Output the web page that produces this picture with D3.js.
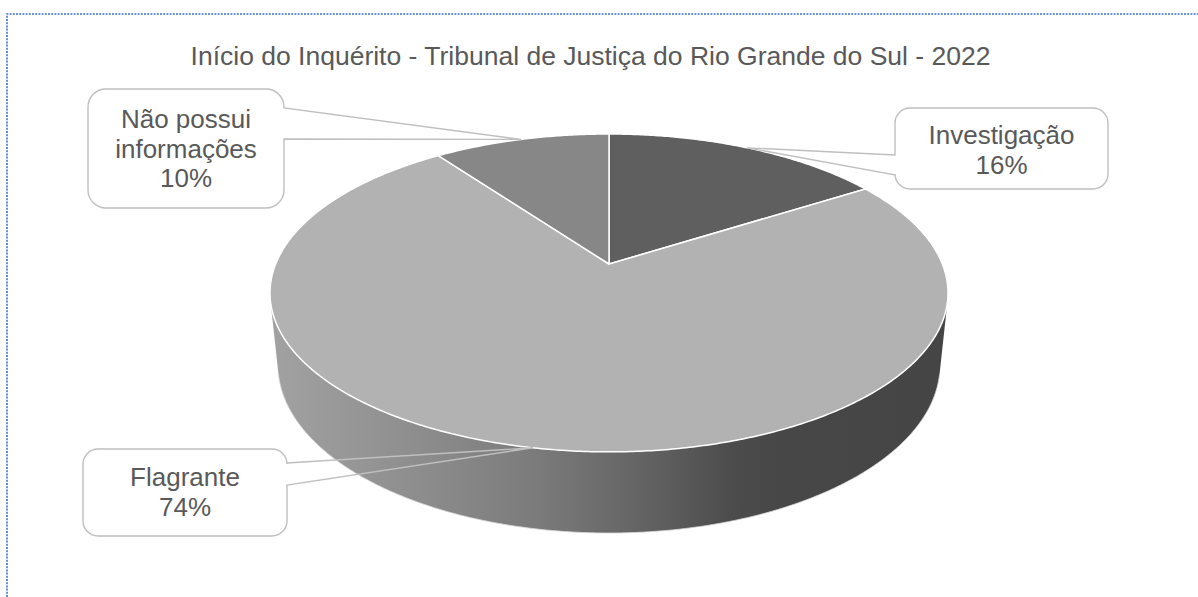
<!DOCTYPE html>
<html><head><meta charset="utf-8">
<script src="https://cdn.jsdelivr.net/npm/d3@7"></script>
<style>body{margin:0;background:#fff} svg{display:block}</style>
</head><body>
<svg id="c" width="1198" height="597"></svg>
<script>
const title = "Início do Inquérito - Tribunal de Justiça do Rio Grande do Sul - 2022";
const categories = ["Investigação", "Flagrante", "Não possui informações"];
const values = [16, 74, 10];
const labelLines = [["Investigação"], ["Flagrante"], ["Não possui", "informações"]];
const colors = ["#5f5f5f", "#b2b2b2", "#878787"];

const W = 1198, H = 597;
const svg = d3.select("#c");
const FONT = "'Liberation Sans', Arial, sans-serif";
const TXT = "#595959";

// chart frame (dotted selection border)
svg.append("path").attr("d", `M7,${H} V14 H${W}`)
  .attr("fill", "none").attr("stroke", "#4472c4").attr("stroke-width", 1.6)
  .attr("stroke-dasharray", "2,1.2");

// title
svg.append("text").attr("x", 590.5).attr("y", 65).attr("text-anchor", "middle")
  .attr("font-family", FONT).attr("font-size", 26.5).attr("fill", TXT).text(title);

// 3D perspective projection of a unit disc
const cx = 609, cy = 264, f = 1625, dist = 4.875;
const sphi = 0.461, cphi = Math.sqrt(1 - sphi * sphi);
const depthH = 0.2455;
function project(X, Y, Z) {
  const dep = dist + Y * cphi - Z * sphi;
  return [cx + f * X / dep, cy - f * (Y * sphi + Z * cphi) / dep];
}
const rim = (a, Z) => project(Math.sin(a), Math.cos(a), Z);
function arcPts(a0, a1, Z) {
  const n = Math.max(2, Math.ceil(Math.abs(a1 - a0) / (Math.PI / 360)));
  return d3.range(n + 1).map(i => rim(a0 + (a1 - a0) * i / n, Z));
}

const total = d3.sum(values);
const pct = d3.format(".0%");
const arcs = d3.pie().sort(null).value(d => d)(values);
const color = d3.scaleOrdinal().domain(categories).range(colors);
const line = d3.line();

// side shading gradient
const defs = svg.append("defs");
const grad = defs.append("linearGradient").attr("id", "side")
  .attr("gradientUnits", "userSpaceOnUse").attr("x1", 270).attr("x2", 949).attr("y1", 0).attr("y2", 0);
[[0, "#a2a2a2"], [0.2, "#8f8f8f"], [0.4, "#7a7a7a"], [0.55, "#636363"], [0.68, "#4c4c4c"], [0.75, "#474747"], [1, "#454545"]]
  .forEach(([o, c]) => grad.append("stop").attr("offset", o).attr("stop-color", c));

// visible (front facing) angular range of cylinder wall
const cLim = 1 / (dist * cphi);
const vis0 = Math.acos(-cLim), vis1 = 2 * Math.PI - Math.acos(-cLim);

const gSide = svg.append("g");
arcs.forEach((a, i) => {
  const a0 = Math.max(a.startAngle, vis0), a1 = Math.min(a.endAngle, vis1);
  if (a1 <= a0) return;
  const pts = arcPts(a0, a1, 0).concat(arcPts(a1, a0, -depthH));
  gSide.append("path").attr("d", line(pts) + "Z")
    .attr("fill", "url(#side)").attr("stroke", "none");
  gSide.append("path").attr("d", line(arcPts(a0, a1, -depthH)))
    .attr("fill", "none").attr("stroke", "#d8d8d8").attr("stroke-width", 0.8);
});

// top faces
const gTop = svg.append("g");
arcs.forEach((a, i) => {
  const pts = [project(0, 0, 0)].concat(arcPts(a.startAngle, a.endAngle, 0));
  gTop.append("path").attr("d", line(pts) + "Z")
    .attr("fill", color(categories[i])).attr("stroke", "#ffffff")
    .attr("stroke-width", 1.5).attr("stroke-linejoin", "round");
});

// callouts
const boxes = [
  { x: 895, y: 108, w: 213, h: 81, r: 15, side: "left", a1: 155, a2: 175, base: 144 },
  { x: 83, y: 449, w: 204, h: 87, r: 15, side: "right", a1: 463, a2: 485, base: 486 },
  { x: 88, y: 89, w: 196, h: 119, r: 18, side: "right", a1: 108, a2: 139, base: 128 }
];
function callout(b, t) {
  const { x, y, w, h, r } = b;
  if (b.side === "right") {
    return `M${x + r},${y} H${x + w - r} A${r},${r} 0 0 1 ${x + w},${y + r} V${b.a1} L${t[0]},${t[1]} L${x + w},${b.a2} V${y + h - r} A${r},${r} 0 0 1 ${x + w - r},${y + h} H${x + r} A${r},${r} 0 0 1 ${x},${y + h - r} V${y + r} A${r},${r} 0 0 1 ${x + r},${y} Z`;
  }
  return `M${x + r},${y} H${x + w - r} A${r},${r} 0 0 1 ${x + w},${y + r} V${y + h - r} A${r},${r} 0 0 1 ${x + w - r},${y + h} H${x + r} A${r},${r} 0 0 1 ${x},${y + h - r} V${b.a2} L${t[0]},${t[1]} L${x},${b.a1} V${y + r} A${r},${r} 0 0 1 ${x + r},${y} Z`;
}
const gLab = svg.append("g");
arcs.forEach((a, i) => {
  const b = boxes[i];
  const mid = (a.startAngle + a.endAngle) / 2;
  const tip = rim(mid, 0);
  gLab.append("path").attr("d", callout(b, tip)).attr("fill", "none")
    .attr("stroke", "#bfbfbf").attr("stroke-width", 1.4);
  const lines = labelLines[i].concat([pct(values[i] / total)]);
  const t = gLab.append("text").attr("text-anchor", "middle")
    .attr("font-family", FONT).attr("font-size", 26).attr("fill", TXT);
  lines.forEach((s, k) => t.append("tspan").attr("x", b.x + b.w / 2).attr("y", b.base + k * 29.5).text(s));
});
</script>
</body></html>
